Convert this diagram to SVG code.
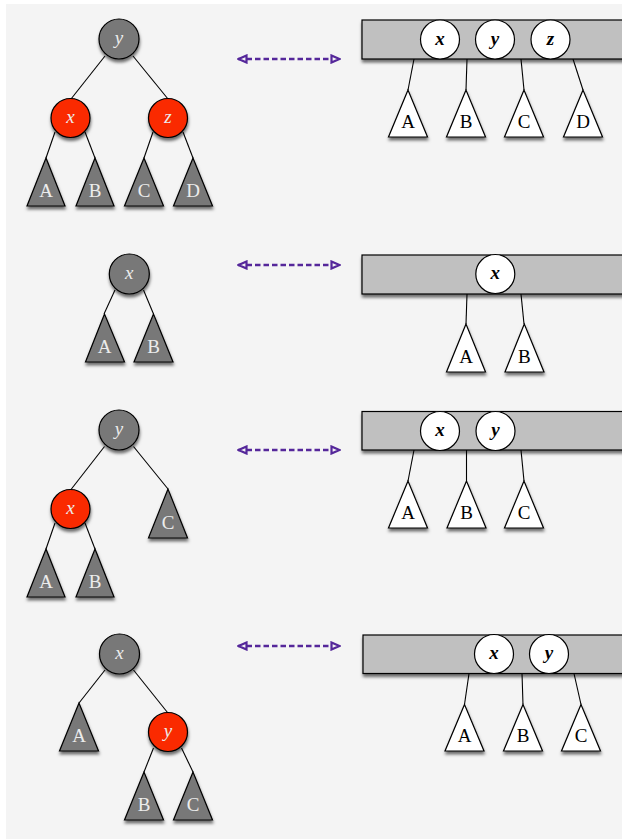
<svg xmlns="http://www.w3.org/2000/svg" width="622" height="839" viewBox="0 0 622 839">
<defs>
<filter id="sh" x="-30%" y="-30%" width="160%" height="170%">
<feDropShadow dx="0.5" dy="3" stdDeviation="1.8" flood-color="#000" flood-opacity="0.55"/>
</filter>
<marker id="ah" viewBox="0 0 11 10" refX="10" refY="5" markerWidth="11" markerHeight="10" markerUnits="userSpaceOnUse" orient="auto-start-reverse">
<path d="M1.5,1.5 L9.5,5 L1.5,8.5 Z" fill="#f4f4f4" stroke="#55279a" stroke-width="2.2"/>
</marker>
</defs>
<style>
.dk{fill:#787878;stroke:#000;stroke-width:1.2;filter:url(#sh)}
.rd{fill:#fa2a00;stroke:#000;stroke-width:1.2;filter:url(#sh)}
.wt{fill:#fff;stroke:#000;stroke-width:1.2;filter:url(#sh)}
.bar{fill:#c0c0c0;stroke:#000;stroke-width:1.2;filter:url(#sh)}
.wc{fill:#fff;stroke:#000;stroke-width:1.2}
.ln{stroke:#000;stroke-width:1.1;fill:none}
.ar{stroke:#55279a;stroke-width:2.4;stroke-dasharray:5.5 3;fill:none;marker-start:url(#ah);marker-end:url(#ah)}
.tl{font-family:"Liberation Serif","DejaVu Serif",serif;font-size:19px;text-anchor:middle;fill:#ececec}
.tb{font-family:"Liberation Serif","DejaVu Serif",serif;font-size:19px;text-anchor:middle;fill:#000}
.nl{font-family:"Liberation Serif","DejaVu Serif",serif;font-size:19px;font-style:italic;text-anchor:middle;fill:#ececec}
.nb{font-family:"Liberation Serif","DejaVu Serif",serif;font-size:19px;font-style:italic;font-weight:bold;text-anchor:middle;fill:#000}
</style>
<rect x="6" y="4" width="616" height="835" fill="#f4f4f4"/>
<g id="connectors">
<line class="ln" x1="105" y1="56" x2="71" y2="99"/>
<line class="ln" x1="133" y1="56" x2="168" y2="99"/>
<line class="ln" x1="55" y1="132" x2="46" y2="158"/>
<line class="ln" x1="85" y1="132" x2="95" y2="158"/>
<line class="ln" x1="153" y1="132" x2="144" y2="158"/>
<line class="ln" x1="183" y1="132" x2="193" y2="158"/>
<line class="ln" x1="414" y1="59" x2="408" y2="90"/>
<line class="ln" x1="467" y1="59" x2="466" y2="90"/>
<line class="ln" x1="521" y1="59" x2="524" y2="90"/>
<line class="ln" x1="573" y1="59" x2="583" y2="90"/>
<line class="ln" x1="115" y1="290" x2="104" y2="314"/>
<line class="ln" x1="143.5" y1="290" x2="153.5" y2="314"/>
<line class="ln" x1="467" y1="294" x2="466" y2="324"/>
<line class="ln" x1="521" y1="294" x2="524" y2="324"/>
<line class="ln" x1="104.5" y1="446.5" x2="71" y2="489.5"/>
<line class="ln" x1="133.5" y1="446.5" x2="168" y2="489"/>
<line class="ln" x1="55" y1="523" x2="46" y2="549"/>
<line class="ln" x1="85" y1="523" x2="95" y2="549"/>
<line class="ln" x1="414" y1="450" x2="408" y2="481"/>
<line class="ln" x1="466.5" y1="450" x2="466.5" y2="481"/>
<line class="ln" x1="521" y1="450" x2="524" y2="481"/>
<line class="ln" x1="105" y1="670" x2="79" y2="703"/>
<line class="ln" x1="133.5" y1="670" x2="167.5" y2="712.5"/>
<line class="ln" x1="153.5" y1="748" x2="144" y2="772"/>
<line class="ln" x1="181.5" y1="748" x2="193" y2="772"/>
<line class="ln" x1="469" y1="673.5" x2="464.5" y2="704.5"/>
<line class="ln" x1="522" y1="673.5" x2="523" y2="704.5"/>
<line class="ln" x1="574" y1="673.5" x2="581" y2="704.5"/>
<line class="ar" x1="238" y1="59" x2="340" y2="59"/>
<line class="ar" x1="238" y1="265" x2="340" y2="265"/>
<line class="ar" x1="238" y1="450" x2="340" y2="450"/>
<line class="ar" x1="238" y1="646" x2="340" y2="646"/>
</g>
<!-- Row 1 left -->
<g id="r1-y"><circle class="dk" cx="119" cy="39" r="20"/><text class="nl" x="119" y="44">y</text></g>
<g id="r1-x"><circle class="rd" cx="70.5" cy="118" r="19.5"/><text class="nl" x="70.5" y="123">x</text></g>
<g id="r1-z"><circle class="rd" cx="168" cy="118" r="19.5"/><text class="nl" x="168" y="123">z</text></g>
<g id="r1-A"><polygon class="dk" points="46,158 27,206 65,206"/><text class="tl" x="46" y="197">A</text></g>
<g id="r1-B"><polygon class="dk" points="95,158 76,206 114,206"/><text class="tl" x="95" y="197">B</text></g>
<g id="r1-C"><polygon class="dk" points="144,158 124.5,206 163.5,206"/><text class="tl" x="144" y="197">C</text></g>
<g id="r1-D"><polygon class="dk" points="193,158 173.5,206 212.5,206"/><text class="tl" x="193" y="197">D</text></g>
<!-- Row 1 right -->
<g id="r1-bar"><rect class="bar" x="362" y="20" width="270" height="39"/>
<circle class="wc" cx="440" cy="39.5" r="19.5"/><text class="nb" x="440" y="44.5">x</text>
<circle class="wc" cx="495" cy="39.5" r="19.5"/><text class="nb" x="495" y="44.5">y</text>
<circle class="wc" cx="550.5" cy="39.5" r="19.5"/><text class="nb" x="550.5" y="44.5">z</text></g>
<g id="r1-rA"><polygon class="wt" points="408,90 388.5,137 427.5,137"/><text class="tb" x="408" y="128">A</text></g>
<g id="r1-rB"><polygon class="wt" points="466,90 446.5,137 485.5,137"/><text class="tb" x="466" y="128">B</text></g>
<g id="r1-rC"><polygon class="wt" points="524,90 504.5,137 543.5,137"/><text class="tb" x="524" y="128">C</text></g>
<g id="r1-rD"><polygon class="wt" points="583,90 563.5,137 602.5,137"/><text class="tb" x="583" y="128">D</text></g>
<!-- Row 2 left -->
<g id="r2-x"><circle class="dk" cx="129.3" cy="274" r="20"/><text class="nl" x="129.3" y="279">x</text></g>
<g id="r2-A"><polygon class="dk" points="104.5,314 85.5,362 124.5,362"/><text class="tl" x="104.5" y="353">A</text></g>
<g id="r2-B"><polygon class="dk" points="153.5,314 134,362 173,362"/><text class="tl" x="153.5" y="353">B</text></g>
<!-- Row 2 right -->
<g id="r2-bar"><rect class="bar" x="362" y="255" width="270" height="39"/>
<circle class="wc" cx="495.3" cy="274" r="19.5"/><text class="nb" x="495.3" y="279">x</text></g>
<g id="r2-rA"><polygon class="wt" points="466,324 446.5,372 485.5,372"/><text class="tb" x="466" y="363">A</text></g>
<g id="r2-rB"><polygon class="wt" points="524.3,324 505,372 544,372"/><text class="tb" x="524.3" y="363">B</text></g>
<!-- Row 3 left -->
<g id="r3-y"><circle class="dk" cx="119" cy="430" r="20"/><text class="nl" x="119" y="435">y</text></g>
<g id="r3-x"><circle class="rd" cx="70.5" cy="509" r="19.5"/><text class="nl" x="70.5" y="514">x</text></g>
<g id="r3-C"><polygon class="dk" points="168,489 148.5,538 187.5,538"/><text class="tl" x="168" y="529">C</text></g>
<g id="r3-A"><polygon class="dk" points="46,549 27,597 65,597"/><text class="tl" x="46" y="588">A</text></g>
<g id="r3-B"><polygon class="dk" points="95,549 76,597 114,597"/><text class="tl" x="95" y="588">B</text></g>
<!-- Row 3 right -->
<g id="r3-bar"><rect class="bar" x="362" y="411.5" width="270" height="38.5"/>
<circle class="wc" cx="440" cy="431" r="19.5"/><text class="nb" x="440" y="436">x</text>
<circle class="wc" cx="495.5" cy="431" r="19.5"/><text class="nb" x="495.5" y="436">y</text></g>
<g id="r3-rA"><polygon class="wt" points="408,481 388.5,528 427.5,528"/><text class="tb" x="408" y="519">A</text></g>
<g id="r3-rB"><polygon class="wt" points="466.5,481 447,528 486,528"/><text class="tb" x="466.5" y="519">B</text></g>
<g id="r3-rC"><polygon class="wt" points="524,481 504.5,528 543.5,528"/><text class="tb" x="524" y="519">C</text></g>
<!-- Row 4 left -->
<g id="r4-x"><circle class="dk" cx="119.5" cy="654" r="20"/><text class="nl" x="119.5" y="659">x</text></g>
<g id="r4-y"><circle class="rd" cx="168" cy="732" r="19.5"/><text class="nl" x="168" y="737">y</text></g>
<g id="r4-A"><polygon class="dk" points="79,703 59.5,751 98.5,751"/><text class="tl" x="79" y="742">A</text></g>
<g id="r4-B"><polygon class="dk" points="144,772 124.5,820 163.5,820"/><text class="tl" x="144" y="811">B</text></g>
<g id="r4-C"><polygon class="dk" points="193,772 173.5,820 212.5,820"/><text class="tl" x="193" y="811">C</text></g>
<!-- Row 4 right -->
<g id="r4-bar"><rect class="bar" x="363" y="635" width="270" height="38.5"/>
<circle class="wc" cx="494" cy="654" r="19.5"/><text class="nb" x="494" y="659">x</text>
<circle class="wc" cx="549" cy="654" r="19.5"/><text class="nb" x="549" y="659">y</text></g>
<g id="r4-rA"><polygon class="wt" points="464.5,704.5 445,751 484,751"/><text class="tb" x="464.5" y="742">A</text></g>
<g id="r4-rB"><polygon class="wt" points="523,704.5 503.5,751 542.5,751"/><text class="tb" x="523" y="742">B</text></g>
<g id="r4-rC"><polygon class="wt" points="581,704.5 561.5,751 600.5,751"/><text class="tb" x="581" y="742">C</text></g>
</svg>
